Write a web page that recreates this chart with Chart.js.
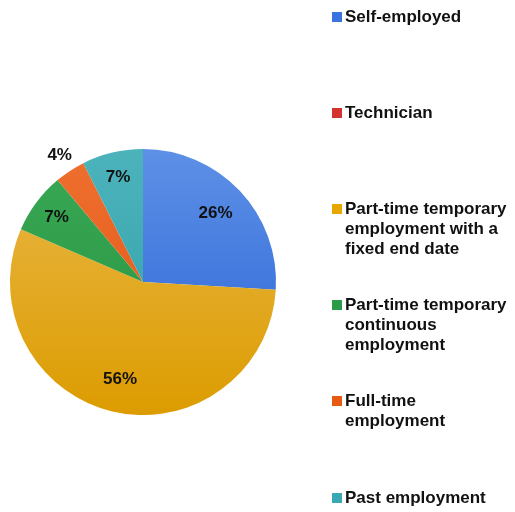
<!DOCTYPE html>
<html>
<head>
<meta charset="utf-8">
<script src="https://cdn.jsdelivr.net/npm/chart.js@4/dist/chart.umd.min.js"></script>
<style>
    html, body { margin: 0; padding: 0; background: #fff; }
    #wrap { position: relative; width: 515px; height: 512px; overflow: hidden; }
    #pieBox { position: absolute; left: 0; top: 0; width: 290px; height: 512px; }
    #legend { position: absolute; left: 0; top: 0; width: 515px; height: 512px; }
    .item { position: absolute; left: 332px; width: 183px; }
    .swatch { position: absolute; left: 0; top: 5px; width: 10px; height: 10px; }
    .text {
        position: absolute; left: 13px; width: 168px;
        font: bold 17px "Liberation Sans", Arial, sans-serif;
        line-height: 20px; color: #111;
    }
</style>
</head>
<body>
<div id="wrap">
    <div id="pieBox"><canvas id="pieChart"></canvas></div>
    <div id="legend"></div>
</div>
<script>
// Respondents by employment status
var categories = [
    'Self-employed',
    'Technician',
    'Part-time temporary employment with a fixed end date',
    'Part-time temporary continuous employment',
    'Full-time employment',
    'Past employment'
];
var counts = [7, 0, 15, 2, 1, 2];

// Slice colours: lighter shade at the top, deeper at the bottom
var topColors = ['#5d90e6', '#e0483e', '#eab84a', '#3aa956', '#ef7030', '#4cb3bb'];
var bottomColors = ['#2862d6', '#c9302a', '#dc9c00', '#24913e', '#e05210', '#2f9ea8'];
var legendColors = ['#3a72e2', '#d3352e', '#e6a800', '#2a9c48', '#e85a12', '#3aa8b2'];

var total = counts.reduce(function(a, b) { return a + b; }, 0);

function sliceGradient(context) {
    var chart = context.chart;
    var area = chart.chartArea;
    var i = context.dataIndex;
    if (!area) return bottomColors[i];
    var g = chart.ctx.createLinearGradient(0, area.top, 0, area.bottom);
    g.addColorStop(0, topColors[i]);
    g.addColorStop(1, bottomColors[i]);
    return g;
}

// Percentage labels inside the slices, tiny slices get theirs outside
var percentLabels = {
    id: 'percentLabels',
    afterDatasetsDraw: function(chart) {
        var ctx = chart.ctx;
        var meta = chart.getDatasetMeta(0);
        ctx.save();
        ctx.font = 'bold 17px "Liberation Sans", Arial, sans-serif';
        ctx.fillStyle = '#111';
        ctx.textAlign = 'center';
        ctx.textBaseline = 'middle';
        meta.data.forEach(function(arc, i) {
            var v = counts[i];
            if (!v) return;
            var share = v / total;
            var p = arc.getProps(['x', 'y', 'startAngle', 'endAngle', 'outerRadius'], true);
            var mid = (p.startAngle + p.endAngle) / 2;
            var f = share < 0.05 ? 1.14 : (share > 0.2 ? 0.75 : 0.81);
            var x = p.x + Math.cos(mid) * p.outerRadius * f;
            var y = p.y + Math.sin(mid) * p.outerRadius * f;
            ctx.fillText(Math.round(share * 100) + '%', x, y);
        });
        ctx.restore();
    }
};

var pieCtx = document.getElementById('pieChart').getContext('2d');
new Chart(pieCtx, {
    type: 'pie',
    data: {
        labels: categories,
        datasets: [{
            data: counts,
            backgroundColor: sliceGradient,
            borderWidth: 0
        }]
    },
    options: {
        responsive: true,
        maintainAspectRatio: false,
        animation: false,
        layout: { padding: { left: 10, right: 14, top: 149, bottom: 97 } },
        plugins: {
            legend: { display: false },
            tooltip: { enabled: false }
        }
    },
    plugins: [percentLabels]
});

// Legend column on the right
var legend = document.getElementById('legend');
categories.forEach(function(name, i) {
    var item = document.createElement('div');
    item.className = 'item';
    item.style.top = (7 + i * 96.1) + 'px';
    var sw = document.createElement('div');
    sw.className = 'swatch';
    sw.style.background = legendColors[i];
    var tx = document.createElement('div');
    tx.className = 'text';
    tx.textContent = name;
    item.appendChild(sw);
    item.appendChild(tx);
    legend.appendChild(item);
});
</script>
</body>
</html>
